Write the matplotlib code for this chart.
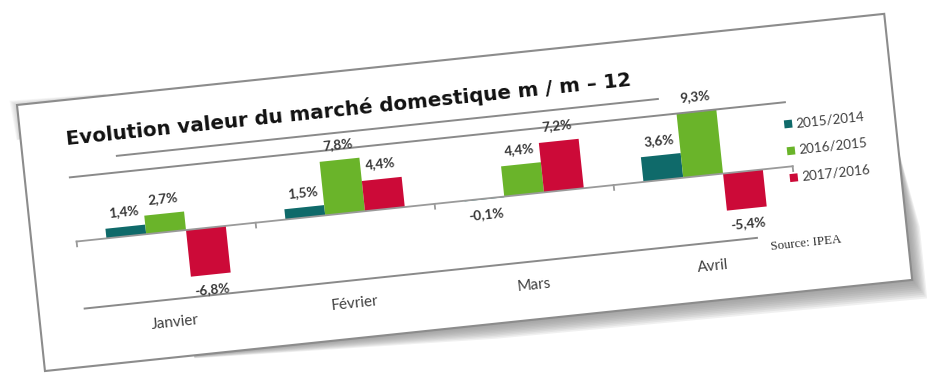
import numpy as np
import matplotlib.pyplot as plt
from matplotlib.transforms import Affine2D
from matplotlib.patches import Polygon, Rectangle

# données
months = ['Janvier', 'Février', 'Mars', 'Avril']
series = ['2015/2014', '2016/2015', '2017/2016']
v2015 = [1.4, 1.5, -0.1, 3.6]
v2016 = [2.7, 7.8, 4.4, 9.3]
v2017 = [-6.8, 4.4, 7.2, -5.4]
colors = ['#0f6a6a', '#6ab42a', '#cc0a38']
title = 'Evolution valeur du marché domestique m / m – 12'
source = 'Source: IPEA'

W, H = 872, 267.5    # taille de la carte
ANG = 6              # inclinaison de la carte

fig = plt.figure(figsize=(9.28, 3.78), dpi=100)
ax = fig.add_axes([0, 0, 1, 1])
ax.set_xlim(0, 928)
ax.set_ylim(378, 0)
ax.axis('off')

card_tr = Affine2D().rotate_deg(-ANG).translate(17, 105) + ax.transData
chart_tr = Affine2D().scale(180, -6.9).translate(135, 142) + card_tr

# ombre portée (bas / droite)
base = np.array([[150, H], [450, H], [W, H], [W, H - 60], [W, H - 130], [W - 5, H - 5], [150, H - 5]])
offs = np.array([[0, 3], [2, 15], [13, 20], [13, 8], [0, 0], [0, 0], [0, 0]])
for t in np.linspace(1, 0.1, 10):
    ax.add_patch(Polygon(base + offs * t, closed=True, facecolor='#888888', alpha=0.12,
                         edgecolor='none', transform=card_tr))
# petite ombre en haut à gauche
base2 = np.array([[0, 0], [90, 0], [0, 35]])
offs2 = np.array([[-7, -5], [0, -2], [-4, 0]])
for t in np.linspace(1, 0.2, 6):
    ax.add_patch(Polygon(base2 + offs2 * t, closed=True, facecolor='#999999', alpha=0.08,
                         edgecolor='none', transform=card_tr))

# carte
ax.add_patch(Rectangle((0, 0), W, H, facecolor='white', edgecolor='#8c8c8c', lw=1.5,
                       transform=card_tr))

# lignes décoratives
for u0, u1, v in [(94, 638, 61), (45, 764, 77.5), (46, 722, 209.5)]:
    ax.plot([u0, u1], [v, v], color='#8a8a8a', lw=1.4, transform=card_tr)

# titre
ax.text(45, 45, title, transform=card_tr, rotation=ANG, rotation_mode='anchor',
        ha='left', va='baseline', fontsize=14.3, fontweight='bold', color='#111111',
        family='DejaVu Sans')

# barres
x = np.arange(len(months))
bw = 40 / 180
for k, (vals, c) in enumerate(zip([v2015, v2016, v2017], colors)):
    ax.bar(x + (k - 1) * bw, vals, bw, color=c, transform=chart_tr)
    for xi, v in zip(x + (k - 1) * bw, vals):
        y = v + (2.2 if v >= 0 else -2.2)
        ax.text(xi, y, f'{v:.1f}%'.replace('.', ','), transform=chart_tr, rotation=ANG,
                rotation_mode='anchor', ha='center', va='center', fontsize=9.8,
                fontweight='bold', color='#383838', family='Lato')

# axe
ax.plot([-0.5, 3.5], [0, 0], color='#9a9a9a', lw=1.3, transform=chart_tr)
for b in [-0.5, 0.5, 1.5, 2.5, 3.5]:
    ax.plot([b, b], [0, -0.7], color='#9a9a9a', lw=1.3, transform=chart_tr)
for xi, m in zip(x, months):
    ax.text(xi, -13.2, m, transform=chart_tr, rotation=ANG, rotation_mode='anchor',
            ha='center', va='center', fontsize=11, color='#404040', family='Lato')

# légende
for k, (s, c) in enumerate(zip(series, colors)):
    v = 99.5 + 27 * k
    ax.add_patch(Rectangle((761, v - 4), 8, 8, facecolor=c, edgecolor='none', transform=card_tr))
    ax.text(773, v, s, transform=card_tr, rotation=ANG, rotation_mode='anchor',
            ha='left', va='center', fontsize=9.7, color='#404040', family='Lato')

ax.text(735, 223, source, transform=card_tr, rotation=ANG, rotation_mode='anchor',
        ha='left', va='baseline', fontsize=9.3, color='#333333', family='Liberation Serif')

fig.savefig('out.png', dpi=100, facecolor='white')
